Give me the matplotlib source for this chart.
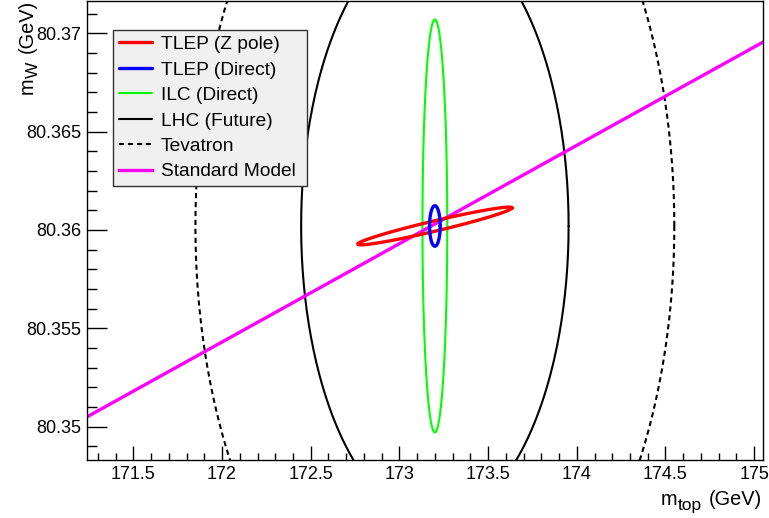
import numpy as np
import matplotlib
matplotlib.use("Agg")
import matplotlib.pyplot as plt

plt.rcParams['font.family'] = 'Liberation Sans'

# contour parameters: centre, half widths, correlation
labels = ["TLEP (Z pole)", "TLEP (Direct)", "ILC (Direct)", "LHC (Future)", "Tevatron"]
colors = ["#ff0000", "#0000ff", "#00ff00", "black", "black"]
c_mtop = [173.2, 173.2, 173.2, 173.2, 173.2]
c_mw = [80.3602, 80.3602, 80.3602, 80.3602, 80.3602]
sig_mtop = [0.435, 0.03, 0.07, 0.754, 1.35]
sig_mw = [0.00096, 0.00103, 0.0105, 0.0150, 0.0230]
rho = [0.96, 0.0, 0.0, 0.0, 0.0]

# Standard Model line end points
sm_mtop = [171.2, 175.1]
sm_mw = [80.35030, 80.36980]

xlim = (171.237, 175.05)
ylim = (80.34830, 80.37164)

W, H = 769, 518
fig = plt.figure(figsize=(W / 100, H / 100), dpi=100)
ax = fig.add_axes([86.7 / W, 58 / H, 676.3 / W, 459 / H])

t = np.linspace(0, 2 * np.pi, 400)
widths = [2.4, 2.4, 1.5, 1.5, 1.5]
handles = {}
for i in [4, 3, 2]:
    x = c_mtop[i] + sig_mtop[i] * np.cos(t)
    y = c_mw[i] + sig_mw[i] * (rho[i] * np.cos(t) + np.sqrt(1 - rho[i] ** 2) * np.sin(t))
    ls = (0, (2.5, 1.8)) if labels[i] == "Tevatron" else '-'
    h, = ax.plot(x, y, color=colors[i], lw=widths[i], linestyle=ls,
                 solid_capstyle='round', solid_joinstyle='round')
    handles[labels[i]] = h

sm, = ax.plot(sm_mtop, sm_mw, color="#ff00ff", lw=2.4)

for i in [0, 1]:
    x = c_mtop[i] + sig_mtop[i] * np.cos(t)
    y = c_mw[i] + sig_mw[i] * (rho[i] * np.cos(t) + np.sqrt(1 - rho[i] ** 2) * np.sin(t))
    h, = ax.plot(x, y, color=colors[i], lw=widths[i],
                 solid_capstyle='round', solid_joinstyle='round')
    handles[labels[i]] = h

ax.set_xlim(*xlim)
ax.set_ylim(*ylim)

ax.set_xticks(np.arange(171.5, 175.01, 0.5))
ax.set_xticklabels(["171.5", "172", "172.5", "173", "173.5", "174", "174.5", "175"])
ax.set_xticks(np.arange(171.3, 175.05, 0.1), minor=True)
ax.set_yticks([80.35, 80.355, 80.36, 80.365, 80.37])
ax.set_yticklabels(["80.35", "80.355", "80.36", "80.365", "80.37"])
ax.set_yticks(np.arange(80.349, 80.3716, 0.001), minor=True)

ax.tick_params(axis='both', which='both', direction='in', top=False, right=False, labelsize=13)
ax.tick_params(axis='x', which='major', length=10, width=1, pad=4)
ax.tick_params(axis='x', which='minor', length=5, width=1)
ax.tick_params(axis='y', which='major', length=14.5, width=1, pad=4)
ax.tick_params(axis='y', which='minor', length=7.2, width=1)
for s in ax.spines.values():
    s.set_linewidth(1.0)

# axis titles built piece by piece (ROOT style subscripts)
r = fig.canvas.get_renderer()
tx = fig.text(762 / W, 1 - 505 / H, "(GeV)", ha='right', va='baseline', fontsize=14.3)
bb = tx.get_window_extent(r)
tx2 = fig.text((bb.x0 - 7) / W, 1 - 510 / H, "top", ha='right', va='baseline', fontsize=12.5)
bb2 = tx2.get_window_extent(r)
fig.text(bb2.x0 / W, 1 - 505 / H, "m", ha='right', va='baseline', fontsize=14.3)

ty = fig.text(33 / W, 1 - 0 / H, "(GeV)", ha='right', va='baseline', fontsize=14.3,
              rotation=90, rotation_mode='anchor')
bb = ty.get_window_extent(r)
ty2 = fig.text(38 / W, (bb.y0 - 8) / H, "W", ha='right', va='baseline', fontsize=12.5,
               rotation=90, rotation_mode='anchor')
bb2 = ty2.get_window_extent(r)
fig.text(33 / W, bb2.y0 / H, "m", ha='right', va='baseline', fontsize=14.3,
         rotation=90, rotation_mode='anchor')

leg_labels = labels + ["Standard Model"]
leg_handles = [handles[l] for l in labels] + [sm]
leg = ax.legend(leg_handles, leg_labels, loc='upper left', mode='expand',
                bbox_to_anchor=((113 - 86.7) / 676.3, (460 - 184) / 459, 194 / 676.3, 154 / 459),
                fontsize=13.8, frameon=True, fancybox=False, framealpha=1,
                facecolor='#f0f0f0', edgecolor='#333333', borderpad=0.3,
                handlelength=1.75, handletextpad=0.45, labelspacing=0.42,
                borderaxespad=0)
leg.get_frame().set_linewidth(1.0)

fig.savefig("out.png", dpi=100)
